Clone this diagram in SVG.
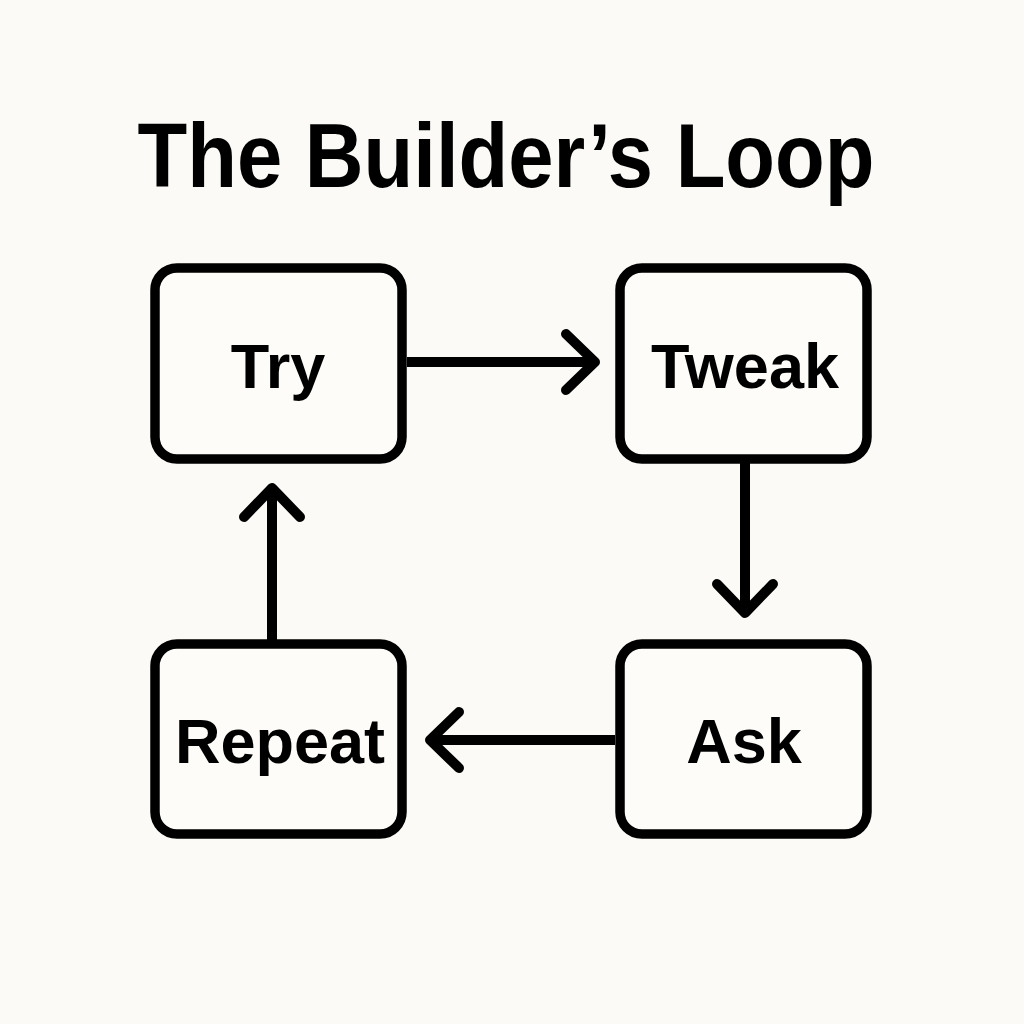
<svg xmlns="http://www.w3.org/2000/svg" width="1024" height="1024" viewBox="0 0 1024 1024">
<defs>
<style>
.box{fill:#fdfcf9;stroke:#000;stroke-width:9.5}
.lbl{font-family:"Liberation Sans",Arial,sans-serif;font-weight:bold;font-size:63px;fill:#000;text-anchor:middle}
.title{font-family:"Liberation Sans",Arial,sans-serif;font-weight:bold;font-size:90px;fill:#000;text-anchor:middle}
.edge{fill:none;stroke:#000;stroke-width:10;stroke-linecap:round;stroke-linejoin:round}
</style>
</defs>
<rect width="1024" height="1024" fill="#fbfaf6"/>
<text class="title" x="506" y="187" textLength="737" lengthAdjust="spacingAndGlyphs">The Builder’s Loop</text>
<g id="connectors">
<path class="edge" d="M407 362 H594" style="stroke-linecap:butt"/>
<path class="edge" d="M566 334 L595 362 L566 390"/>
<path class="edge" d="M745 463 V612" style="stroke-linecap:butt"/>
<path class="edge" d="M717 584 L745 613 L773 584"/>
<path class="edge" d="M615 740 H431" style="stroke-linecap:butt"/>
<path class="edge" d="M459 712 L430 740 L459 768"/>
<path class="edge" d="M272 640 V488" style="stroke-linecap:butt"/>
<path class="edge" d="M244 517 L272 488 L300 517"/>
</g>
<g id="node-try">
<rect class="box" x="155" y="268" width="247" height="191" rx="22"/>
<text class="lbl" x="278" y="388">Try</text>
</g>
<g id="node-tweak">
<rect class="box" x="620" y="268" width="247" height="191" rx="22"/>
<text class="lbl" x="745" y="388">Tweak</text>
</g>
<g id="node-ask">
<rect class="box" x="620" y="644" width="247" height="190" rx="22"/>
<text class="lbl" x="744" y="763">Ask</text>
</g>
<g id="node-repeat">
<rect class="box" x="155" y="644" width="247" height="190" rx="22"/>
<text class="lbl" x="280" y="763">Repeat</text>
</g>
</svg>
